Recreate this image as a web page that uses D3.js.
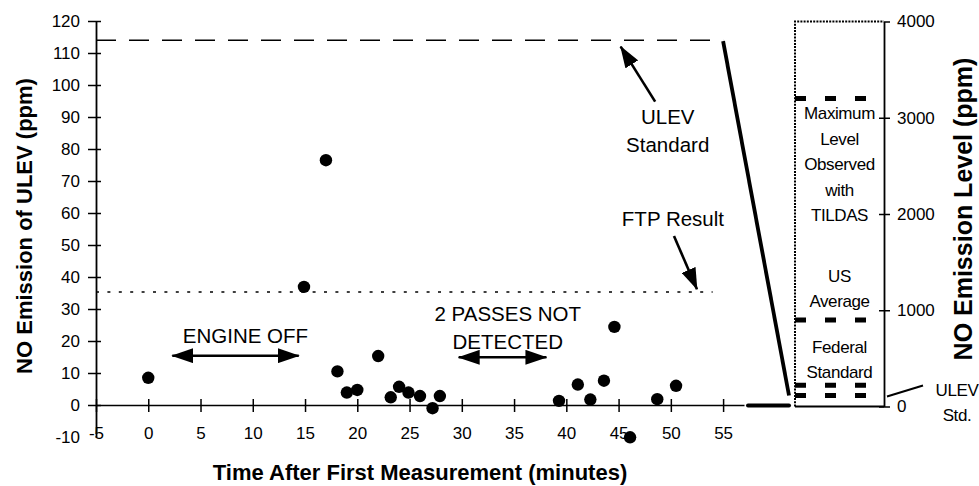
<!DOCTYPE html>
<html>
<head>
<meta charset="utf-8">
<script src="https://cdn.jsdelivr.net/npm/d3@7"></script>
<style>
  body { margin: 0; background: #fff; }
  text { font-family: Arial, "Liberation Sans", Helvetica, sans-serif; fill: #000; }
</style>
</head>
<body>
<div id="chart"></div>
<script>
// ---------------------------------------------------
// DATA
// ---------------------------------------------------
const minutes = [0, 14.9, 17.0, 18.1, 19.0, 20.0, 22.0, 23.2, 24.0, 24.9, 26.0, 27.2, 27.9,
                 39.3, 41.1, 42.3, 43.6, 44.6, 46.1, 48.7, 50.5];
const noPpm   = [8.5, 36.9, 76.5, 10.5, 3.9, 4.7, 15.3, 2.4, 5.7, 3.9, 2.8, -1.0, 2.8,
                 1.3, 6.4, 1.7, 7.6, 24.4, -10.1, 1.8, 6.0];

const xTicks = [-5, 0, 5, 10, 15, 20, 25, 30, 35, 40, 45, 50, 55];
const yTicks = [-10, 0, 10, 20, 30, 40, 50, 60, 70, 80, 90, 100, 110, 120];
const rightTicks = [0, 1000, 2000, 3000, 4000];

const ulevStd = 114;    // ppm
const ftpResult = 35.3; // ppm

// levels in right panel (ppm): maximum, US average, federal standard, ULEV std
const levelValues = [3200, 900, 220, 114];

// plain hyphen minus, no thousands separator
const plain = d => String(d);

// ---------------------------------------------------
// SIZE + SCALES
// ---------------------------------------------------
const width = 979, height = 486;

const svg = d3.select("#chart").append("svg")
  .attr("width", width)
  .attr("height", height);

const x = d3.scaleLinear().domain([-5, 57]).range([96, 744]);
const y = d3.scaleLinear().domain([-10, 120]).range([437, 21]);
const yR = d3.scaleLinear().domain([0, 4000]).range([406.5, 21.5]);

const panelLeft = 795, panelRight = 884;

// arrow head
svg.append("defs").append("marker")
  .attr("id", "head")
  .attr("markerUnits", "userSpaceOnUse")
  .attr("viewBox", "0 0 22 15")
  .attr("markerWidth", 22)
  .attr("markerHeight", 15)
  .attr("refX", 21)
  .attr("refY", 7.5)
  .attr("orient", "auto-start-reverse")
  .append("path")
  .attr("d", "M0,0 L22,7.5 L0,15 Z")
  .attr("fill", "#000");

// ---------------------------------------------------
// LEFT AXES
// ---------------------------------------------------
const yAxis = svg.append("g")
  .attr("transform", `translate(${x(-5)},0)`)
  .call(d3.axisLeft(y).tickValues(yTicks).tickFormat(plain)
    .tickSize(8).tickPadding(8).tickSizeOuter(0));
yAxis.selectAll(".tick line").attr("x1", 5).attr("stroke-width", 1.5)
  .filter(d => d === -10).remove();
yAxis.select(".domain").attr("stroke-width", 1.8);
yAxis.selectAll("text").style("font-size", "17px");

const xAxis = svg.append("g")
  .attr("transform", `translate(0,${y(0)})`)
  .call(d3.axisBottom(x).tickValues(xTicks).tickFormat(plain)
    .tickSize(7).tickPadding(15).tickSizeOuter(0));
xAxis.selectAll(".tick line").attr("y1", -6).attr("stroke-width", 1.5);
xAxis.select(".domain").attr("stroke-width", 1.5);
xAxis.selectAll("text").style("font-size", "17px");

svg.append("text")
  .attr("x", (x.range()[0] + x.range()[1]) / 2)
  .attr("y", 480)
  .attr("text-anchor", "middle")
  .style("font-size", "22px")
  .style("font-weight", "bold")
  .text("Time After First Measurement (minutes)");

svg.append("text")
  .attr("transform", "rotate(-90)")
  .attr("x", -226)
  .attr("y", 32)
  .attr("text-anchor", "middle")
  .style("font-size", "22px")
  .style("font-weight", "bold")
  .text("NO Emission of ULEV (ppm)");

// ---------------------------------------------------
// REFERENCE LINES
// ---------------------------------------------------
svg.append("line")
  .attr("x1", x(-5)).attr("x2", x(55))
  .attr("y1", y(ulevStd)).attr("y2", y(ulevStd))
  .attr("stroke", "#000").attr("stroke-width", 1.6)
  .attr("stroke-dasharray", "20,13");

svg.append("line")
  .attr("x1", x(-5)).attr("x2", x(54))
  .attr("y1", y(ftpResult)).attr("y2", y(ftpResult))
  .attr("stroke", "#000").attr("stroke-width", 1.4)
  .attr("stroke-dasharray", "3,8.4");

// ---------------------------------------------------
// POINTS
// ---------------------------------------------------
svg.selectAll(".pt")
  .data(minutes.map((m, i) => ({ m, v: noPpm[i] })))
  .join("circle")
  .attr("class", "pt")
  .attr("cx", d => x(d.m))
  .attr("cy", d => y(d.v))
  .attr("r", 6.2)
  .attr("fill", "#000");

// ---------------------------------------------------
// ANNOTATIONS (data coordinates of left plot)
// ---------------------------------------------------
const notes = [
  { lines: ["ULEV", "Standard"], x: 49.7, y: 87.7 },
  { lines: ["FTP Result"], x: 50.2, y: 55.8 },
  { lines: ["2 PASSES NOT", "DETECTED"], x: 34.4, y: 26.4 },
  { lines: ["ENGINE OFF"], x: 9.3, y: 19.5 }
];
notes.forEach(n => {
  const t = svg.append("text")
    .attr("text-anchor", "middle")
    .style("font-size", "20.5px");
  n.lines.forEach((l, i) => {
    t.append("tspan")
      .attr("x", x(n.x))
      .attr("y", y(n.y) + i * 28)
      .text(l);
  });
});

const arrows = [
  { x1: 48.5, y1: 94.8, x2: 45.2, y2: 112, both: false },
  { x1: 50.3, y1: 52.8, x2: 52.5, y2: 36.2, both: false },
  { x1: 2.3, y1: 15.4, x2: 14.4, y2: 15.4, both: true },
  { x1: 29.7, y1: 14.9, x2: 38.1, y2: 14.9, both: true }
];
svg.selectAll(".arrow")
  .data(arrows)
  .join("line")
  .attr("class", "arrow")
  .attr("x1", d => x(d.x1)).attr("y1", d => y(d.y1))
  .attr("x2", d => x(d.x2)).attr("y2", d => y(d.y2))
  .attr("stroke", "#000").attr("stroke-width", 2.6)
  .attr("marker-end", "url(#head)")
  .attr("marker-start", d => d.both ? "url(#head)" : null);

// ---------------------------------------------------
// CONNECTING (ZOOM) LINES
// ---------------------------------------------------
svg.append("line")
  .attr("x1", x(55)).attr("y1", y(ulevStd) + 1)
  .attr("x2", panelLeft - 6).attr("y2", yR(ulevStd))
  .attr("stroke", "#000").attr("stroke-width", 3.8);

svg.append("line")
  .attr("x1", x.range()[1] + 4).attr("y1", y(0) + 0.5)
  .attr("x2", panelLeft - 6).attr("y2", y(0) + 0.5)
  .attr("stroke", "#000").attr("stroke-width", 4)
  .attr("stroke-linecap", "round");

// ---------------------------------------------------
// RIGHT PANEL
// ---------------------------------------------------
svg.append("path")
  .attr("d", `M${panelLeft},${yR(0)} L${panelLeft},${yR(4000)} L${panelRight},${yR(4000)}`)
  .attr("fill", "none")
  .attr("stroke", "#000").attr("stroke-width", 2)
  .attr("stroke-dasharray", "2,1.2");

svg.append("line")
  .attr("x1", panelLeft).attr("x2", panelRight)
  .attr("y1", yR(0)).attr("y2", yR(0))
  .attr("stroke", "#000").attr("stroke-width", 2);

svg.selectAll(".level")
  .data(levelValues)
  .join("line")
  .attr("class", "level")
  .attr("x1", panelLeft).attr("x2", panelRight)
  .attr("y1", d => yR(d)).attr("y2", d => yR(d))
  .attr("stroke", "#000").attr("stroke-width", 5)
  .attr("stroke-dasharray", "11,19");

const rAxis = svg.append("g")
  .attr("transform", `translate(${panelRight},0)`)
  .call(d3.axisRight(yR).tickValues(rightTicks).tickFormat(plain)
    .tickSize(6).tickPadding(7).tickSizeOuter(0));
rAxis.selectAll(".tick line").attr("x1", d => d === 4000 ? 0 : -5).attr("stroke-width", 1.5);
rAxis.select(".domain").attr("stroke-width", 1.8);
rAxis.selectAll("text").style("font-size", "17px");

svg.append("text")
  .attr("transform", "rotate(-90)")
  .attr("x", -209)
  .attr("y", 972)
  .attr("text-anchor", "middle")
  .style("font-size", "25px")
  .style("font-weight", "bold")
  .text("NO Emission Level (ppm)");

// captions inside panel
const captions = [
  { lines: ["Maximum", "Level", "Observed", "with", "TILDAS"], v: 2987 },
  { lines: ["US", "Average"], v: 1294 },
  { lines: ["Federal", "Standard"], v: 556 }
];
captions.forEach(c => {
  const t = svg.append("text")
    .attr("text-anchor", "middle")
    .style("font-size", "17px")
    .style("letter-spacing", "-0.4px");
  c.lines.forEach((l, i) => {
    t.append("tspan")
      .attr("x", (panelLeft + panelRight) / 2)
      .attr("y", yR(c.v) + i * 25.5)
      .text(l);
  });
});

// ULEV Std. pointer
svg.append("line")
  .attr("x1", panelRight + 3).attr("y1", yR(ulevStd) + 1)
  .attr("x2", panelRight + 39).attr("y2", yR(ulevStd) - 10)
  .attr("stroke", "#000").attr("stroke-width", 2);

const ulevLabel = svg.append("text")
  .attr("text-anchor", "middle")
  .style("font-size", "17px")
  .style("letter-spacing", "-0.4px");
["ULEV", "Std."].forEach((l, i) => {
  ulevLabel.append("tspan")
    .attr("x", 957)
    .attr("y", yR(ulevStd) + i * 25)
    .text(l);
});
</script>
</body>
</html>
